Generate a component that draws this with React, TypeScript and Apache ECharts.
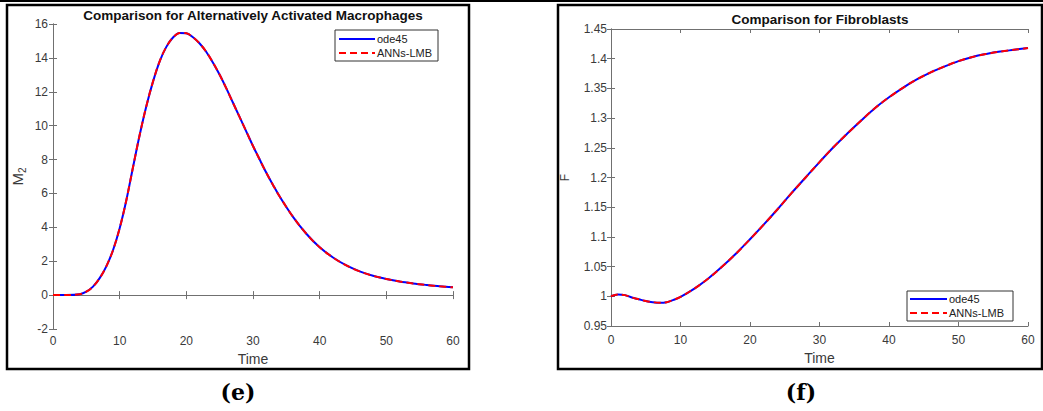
import React, { useEffect, useRef } from "react";
import * as echarts from "echarts";

// Panel (e): Alternatively Activated Macrophages M2
const timeM2 = [0, 2, 4, 5, 6, 7, 8, 9, 10, 11, 12, 13, 14, 15, 16, 17, 18, 19, 20, 21, 22, 23, 24, 25, 26, 27, 28, 29, 30, 31, 32, 33, 34, 36, 38, 40, 42, 44, 46, 48, 50, 52, 54, 56, 58, 60];
const valuesM2 = [0, 0, 0.05, 0.2, 0.5, 1.0, 1.7, 2.65, 3.95, 5.6, 7.55, 9.45, 11.15, 12.6, 13.8, 14.65, 15.2, 15.47, 15.45, 15.22, 14.85, 14.35, 13.72, 13.0, 12.2, 11.35, 10.5, 9.65, 8.8, 8.0, 7.22, 6.5, 5.82, 4.62, 3.62, 2.82, 2.22, 1.75, 1.4, 1.14, 0.95, 0.8, 0.69, 0.6, 0.52, 0.46];

// Panel (f): Fibroblasts F
const timeF = [0, 1, 2, 3, 4, 5, 6, 7, 8, 9, 10, 12, 14, 16, 18, 20, 22, 24, 26, 28, 30, 32, 34, 36, 38, 40, 42, 44, 46, 48, 50, 52, 54, 56, 58, 60];
const valuesF = [1.0, 1.003, 1.002, 0.998, 0.995, 0.992, 0.99, 0.989, 0.99, 0.994, 0.999, 1.013, 1.03, 1.05, 1.072, 1.096, 1.121, 1.147, 1.174, 1.2, 1.226, 1.251, 1.274, 1.296, 1.317, 1.335, 1.351, 1.365, 1.377, 1.387, 1.396, 1.403, 1.408, 1.412, 1.415, 1.418];

const seriesNames = ["ode45", "ANNs-LMB"];
const xTicks = { min: 0, max: 60, interval: 10 };
const yTicksM2 = { min: -2, max: 16, interval: 2 };
const yTicksF = { min: 0.95, max: 1.45, interval: 0.05 };

const titles = ["Comparison for Alternatively Activated Macrophages", "Comparison for Fibroblasts"];
const panelLabels = ["(e)", "(f)"];

const FONT = "Liberation Sans, Arial, sans-serif";
const AX = "#707070";
const LBL = "#3a3a3a";
const BLUE = "#0000ff";
const RED = "#ff0000";
const DASH = [7, 4];

function pairs(t: number[], v: number[]) {
  return t.map((x, i) => [x, v[i]]);
}

function xAxes(gridIndex: number, gap: number, margin: number) {
  return [
    {
      type: "value", gridIndex, position: "bottom", ...xTicks,
      name: "Time", nameLocation: "middle", nameGap: gap,
      nameTextStyle: { fontFamily: FONT, fontSize: 14, color: LBL },
      axisLine: { show: true, lineStyle: { color: AX, width: 1 } },
      axisTick: { show: true, inside: true, length: 4, lineStyle: { color: AX } },
      axisLabel: { fontFamily: FONT, fontSize: 12, color: LBL, margin },
      splitLine: { show: false },
    },
    {
      type: "value", gridIndex, position: "top", ...xTicks,
      axisLine: { show: true, lineStyle: { color: AX, width: 1 } },
      axisTick: { show: true, inside: true, length: 4, lineStyle: { color: AX } },
      axisLabel: { show: false },
      splitLine: { show: false },
    },
  ];
}

function yAxes(gridIndex: number, ticks: any, name: any, nameStyle: any, gap: number, margin: number) {
  return [
    {
      type: "value", gridIndex, position: "left", ...ticks,
      name, nameLocation: "middle", nameGap: gap, nameRotate: 90,
      nameTextStyle: nameStyle,
      axisLine: { show: true, lineStyle: { color: AX, width: 1 } },
      axisTick: { show: true, inside: true, length: 4, lineStyle: { color: AX } },
      axisLabel: { fontFamily: FONT, fontSize: 12, color: LBL, margin },
      splitLine: { show: false },
    },
    {
      type: "value", gridIndex, position: "right", ...ticks,
      axisLine: { show: true, lineStyle: { color: AX, width: 1 } },
      axisTick: { show: true, inside: true, length: 4, lineStyle: { color: AX } },
      axisLabel: { show: false },
      splitLine: { show: false },
    },
  ];
}

function lineSeries(xi: number, yi: number, data: number[][]) {
  return [
    {
      name: seriesNames[0], type: "line", xAxisIndex: xi, yAxisIndex: yi,
      data, showSymbol: false, symbol: "none", smooth: 0.35,
      lineStyle: { color: BLUE, width: 2 }, itemStyle: { color: BLUE },
    },
    {
      name: seriesNames[1], type: "line", xAxisIndex: xi, yAxisIndex: yi,
      data, showSymbol: false, symbol: "none", smooth: 0.35,
      lineStyle: { color: RED, width: 2, type: DASH }, itemStyle: { color: RED },
    },
  ];
}

function legendBox(x: number, y: number, w: number, h: number, lineX1: number, lineX2: number, y1: number, y2: number) {
  return {
    type: "group",
    children: [
      { type: "rect", shape: { x, y, width: w, height: h }, style: { fill: "#fff", stroke: "#333", lineWidth: 1 } },
      { type: "line", shape: { x1: lineX1, y1, x2: lineX2, y2: y1 }, style: { stroke: BLUE, lineWidth: 2.2 } },
      { type: "line", shape: { x1: lineX1, y1: y2, x2: lineX2, y2 }, style: { stroke: RED, lineWidth: 2.2, lineDash: DASH } },
      { type: "text", x: lineX2 + 2, y: y1, style: { text: seriesNames[0], fontFamily: FONT, fontSize: 11, fill: "#222", textVerticalAlign: "middle" } },
      { type: "text", x: lineX2 + 2, y: y2, style: { text: seriesNames[1], fontFamily: FONT, fontSize: 11, fill: "#222", textVerticalAlign: "middle" } },
    ],
  };
}

export default function App() {
  const ref = useRef<HTMLDivElement>(null);
  useEffect(() => {
    if (!ref.current) return;
    const chart = echarts.init(ref.current, null, { renderer: "svg" });
    const option: any = {
      animation: false,
      backgroundColor: "#fff",
      grid: [
        { left: 53, top: 24, width: 400, height: 305, containLabel: false },
        { left: 611, top: 29, width: 417, height: 297, containLabel: false },
      ],
      xAxis: [...xAxes(0, 20, 6), ...xAxes(1, 22, 8)],
      yAxis: [
        ...yAxes(0, yTicksM2, "{m|M}{s|2}", {
          fontFamily: FONT, fontSize: 15, color: LBL,
          rich: {
            m: { fontFamily: FONT, fontSize: 15, color: LBL, lineHeight: 20 },
            s: { fontFamily: FONT, fontSize: 10, color: LBL, lineHeight: 20, verticalAlign: "bottom" },
          },
        }, 26, 5),
        ...yAxes(1, yTicksF, "F", { fontFamily: FONT, fontSize: 12, color: LBL }, 40, 4),
      ],
      series: [...lineSeries(0, 0, pairs(timeM2, valuesM2)), ...lineSeries(2, 2, pairs(timeF, valuesF))],
      graphic: [
        { type: "rect", shape: { x: 0, y: 0, width: 1043, height: 2 }, style: { fill: "#000" }, silent: true },
        { type: "rect", shape: { x: 7, y: 5, width: 462, height: 364 }, style: { fill: "none", stroke: "#000", lineWidth: 2.5 }, silent: true },
        { type: "rect", shape: { x: 558, y: 5, width: 484, height: 364 }, style: { fill: "none", stroke: "#000", lineWidth: 2.5 }, silent: true },
        { type: "text", x: 253, y: 15, style: { text: titles[0], fontFamily: FONT, fontSize: 13.5, fontWeight: "bold", fill: "#111", textAlign: "center", textVerticalAlign: "middle" } },
        { type: "text", x: 820, y: 19, style: { text: titles[1], fontFamily: FONT, fontSize: 13.5, fontWeight: "bold", fill: "#111", textAlign: "center", textVerticalAlign: "middle" } },
        { type: "text", x: 238, y: 392, style: { text: panelLabels[0], fontFamily: "DejaVu Serif, serif", fontSize: 22, fontWeight: "bold", fill: "#000", textAlign: "center", textVerticalAlign: "middle" } },
        { type: "text", x: 801, y: 392, style: { text: panelLabels[1], fontFamily: "DejaVu Serif, serif", fontSize: 22, fontWeight: "bold", fill: "#000", textAlign: "center", textVerticalAlign: "middle" } },
        legendBox(335, 30, 103, 31, 339, 375, 39, 53),
        legendBox(907, 291, 106, 30, 910, 947, 299, 313),
      ],
    };
    chart.setOption(option);
    return () => chart.dispose();
  }, []);
  return <div ref={ref} style={{ position: "absolute", left: 0, top: 0, width: 1043, height: 411 }} />;
}
